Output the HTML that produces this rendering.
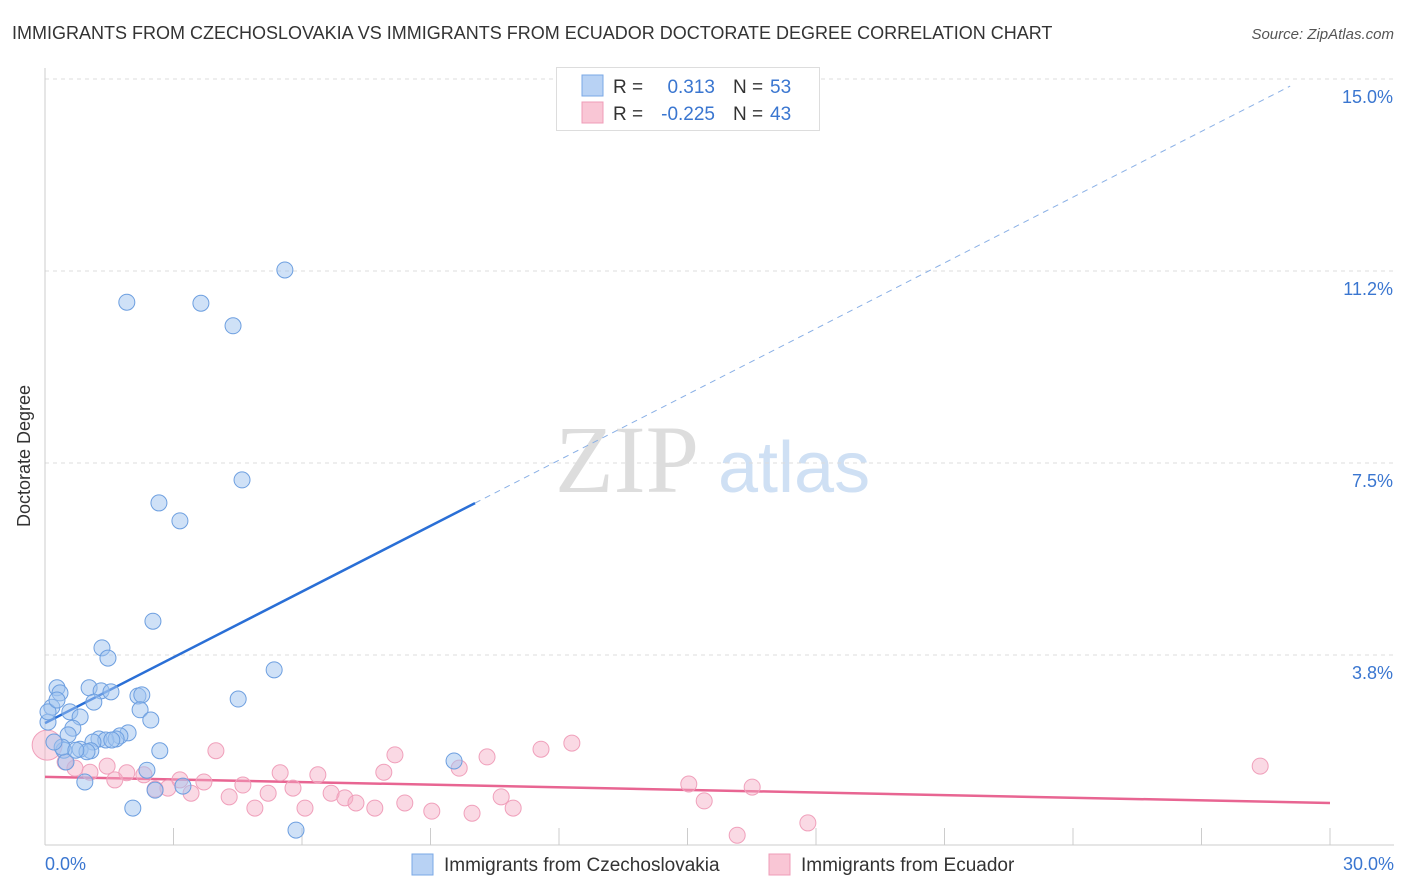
<!DOCTYPE html>
<html><head><meta charset="utf-8"><style>
body{margin:0;background:#fff;font-family:"Liberation Sans",sans-serif}
svg{display:block}
</style></head><body>
<svg id="chart" width="1406" height="892" xmlns="http://www.w3.org/2000/svg">
<text x="12" y="39" font-size="18" fill="#333">IMMIGRANTS FROM CZECHOSLOVAKIA VS IMMIGRANTS FROM ECUADOR DOCTORATE DEGREE CORRELATION CHART</text>
<text x="1394" y="39" font-size="15" fill="#555" font-style="italic" text-anchor="end">Source: ZipAtlas.com</text>
<text x="30" y="456" font-size="18" fill="#333" text-anchor="middle" transform="rotate(-90 30 456)">Doctorate Degree</text>
<g>
<text x="555" y="492" font-size="96" font-family="Liberation Serif,serif" fill="#ddd">ZIP</text>
<text x="718" y="492" font-size="72" fill="#cfe0f4">atlas</text>
</g>
<g id="grid"></g><g id="axes"></g><g id="trends"></g><g id="points"></g>
<g>
<rect x="556.5" y="67.5" width="263" height="63" fill="#fff" stroke="#ddd"/>
<rect x="582" y="75" width="21" height="21" fill="#b8d2f4" stroke="#7aa8e6"/>
<rect x="582" y="102" width="21" height="21" fill="#f9c6d5" stroke="#ef9cb8"/>
<text x="613" y="93" font-size="19" fill="#333">R =</text>
<text x="715" y="93" font-size="19" fill="#3a76d0" text-anchor="end">0.313</text>
<text x="733" y="93" font-size="19" fill="#333">N =</text>
<text x="770" y="93" font-size="19" fill="#3a76d0">53</text>
<text x="613" y="120" font-size="19" fill="#333">R =</text>
<text x="715" y="120" font-size="19" fill="#3a76d0" text-anchor="end">-0.225</text>
<text x="733" y="120" font-size="19" fill="#333">N =</text>
<text x="770" y="120" font-size="19" fill="#3a76d0">43</text>
</g>
<g>
<rect x="412" y="854" width="21" height="21" fill="#b8d2f4" stroke="#7aa8e6"/>
<text x="444" y="871" font-size="19" fill="#333">Immigrants from Czechoslovakia</text>
<rect x="769" y="854" width="21" height="21" fill="#f9c6d5" stroke="#ef9cb8"/>
<text x="801" y="871" font-size="19" fill="#333">Immigrants from Ecuador</text>
</g>
</svg>
<script>
const yTicks=[3.75,7.5,11.25,15];
const yTickLabels=["3.8%","7.5%","11.2%","15.0%"];
const xTicks=[0,3,6,9,12,15,18,21,24,27,30];
const blueX=[5.60,1.91,3.64,4.39,4.60,2.66,3.15,2.52,1.33,1.47,5.35,0.28,1.03,0.35,1.31,1.54,2.17,2.26,4.51,1.14,0.16,0.58,2.22,0.82,2.47,0.07,0.65,0.54,1.94,1.75,1.26,1.42,1.66,1.12,0.44,0.82,1.07,2.68,0.98,9.55,0.49,2.38,0.93,2.57,3.22,2.05,5.86,0.07,0.40,0.72,0.21,1.56,0.28];
const blueY=[11.27,10.64,10.62,10.18,7.17,6.72,6.37,4.41,3.89,3.69,3.46,3.11,3.11,3.01,3.05,3.03,2.95,2.97,2.89,2.83,2.73,2.64,2.68,2.54,2.48,2.44,2.32,2.19,2.23,2.17,2.11,2.09,2.11,2.05,1.89,1.91,1.88,1.88,1.86,1.68,1.66,1.50,1.27,1.11,1.19,0.76,0.33,2.64,1.95,1.89,2.05,2.09,2.87];
const pinkX=[0.05,0.47,0.70,1.05,1.45,1.91,2.31,2.87,3.15,3.41,3.71,3.99,4.30,4.62,4.90,5.21,5.49,5.79,6.07,6.37,6.68,7.00,7.26,7.70,7.91,8.17,8.40,9.03,9.67,9.97,10.32,10.65,10.93,11.58,12.30,15.03,15.39,16.16,16.51,17.81,28.37,2.57,1.63];
const pinkY=[1.99,1.66,1.54,1.46,1.58,1.45,1.41,1.15,1.31,1.05,1.27,1.88,0.98,1.21,0.76,1.05,1.45,1.15,0.76,1.41,1.05,0.96,0.86,0.76,1.46,1.80,0.86,0.70,1.54,0.66,1.76,0.98,0.76,1.91,2.03,1.23,0.90,0.23,1.17,0.47,1.58,1.13,1.31];
const blueTrend=[2.42,0.428]; // intercept, slope
const blueSolidEnd=10.04, blueDashEnd=29.07;
const pinkTrend=[1.37,-0.017];

const NS="http://www.w3.org/2000/svg";
const sx=v=>45+v/30*1285;
const sy=v=>847-v/15*768;
function mk(tag,attrs,parent){const e=document.createElementNS(NS,tag);for(const k in attrs)e.setAttribute(k,attrs[k]);parent.appendChild(e);return e;}
const grid=document.getElementById('grid'),axes=document.getElementById('axes'),tr=document.getElementById('trends'),pts=document.getElementById('points');
yTicks.forEach((t,i)=>{
  const l=mk('line',{x1:45,x2:1394,y1:sy(t),y2:sy(t),stroke:'#ddd','stroke-dasharray':'4,4'},grid);
  
  
  const tx=mk('text',{x:1393,y:sy(t)+24,'font-size':18,fill:'#3a76d0','text-anchor':'end'},axes);
  tx.textContent=yTickLabels[i];
  
  
});
const ax=mk('line',{x1:45,x2:45,y1:68,y2:845,stroke:'#ccc'},axes);


const bx=mk('line',{x1:45,x2:1394,y1:845,y2:845,stroke:'#ccc'},axes);


xTicks.forEach(t=>{
  const l=mk('line',{x1:sx(t),x2:sx(t),y1:828,y2:845,stroke:'#ccc'},axes);
  
  
});
const xl0=mk('text',{x:45,y:870,'font-size':18,fill:'#3a76d0'},axes);xl0.textContent=xTicks[0].toFixed(1)+'%';


const xl1=mk('text',{x:1394,y:870,'font-size':18,fill:'#3a76d0','text-anchor':'end'},axes);xl1.textContent=xTicks[xTicks.length-1].toFixed(1)+'%';



pinkX.forEach((x,i)=>{
  const c=mk('circle',{cx:sx(x),cy:sy(pinkY[i]),r:i===0?15:8,fill:'rgba(245,170,195,0.45)',stroke:'#f0a0bb','stroke-width':1},pts);
  
  
});
blueX.forEach((x,i)=>{
  const c=mk('circle',{cx:sx(x),cy:sy(blueY[i]),r:8,fill:'rgba(160,195,240,0.5)',stroke:'#6d9fe0','stroke-width':1},pts);
  
  
});
const bl=mk('line',{x1:sx(0),y1:sy(blueTrend[0]),x2:sx(blueSolidEnd),y2:sy(blueTrend[0]+blueTrend[1]*blueSolidEnd),stroke:'#2a6fd6','stroke-width':2.5},tr);


const bd=mk('line',{x1:sx(blueSolidEnd),y1:sy(blueTrend[0]+blueTrend[1]*blueSolidEnd),x2:sx(blueDashEnd),y2:sy(blueTrend[0]+blueTrend[1]*blueDashEnd),stroke:'#8ab0e6','stroke-width':1,'stroke-dasharray':'6,5'},tr);


const pl=mk('line',{x1:sx(0),y1:sy(pinkTrend[0]),x2:sx(30),y2:sy(pinkTrend[0]+pinkTrend[1]*30),stroke:'#e86592','stroke-width':2.5},tr);


</script>
</body></html>
